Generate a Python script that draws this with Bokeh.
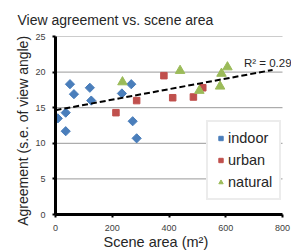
import math
from bokeh.plotting import figure
from bokeh.models import Range1d, Label, Legend, LegendItem, FixedTicker, Title
from bokeh.embed import file_html
from bokeh.resources import INLINE

# ---- data ----
indoor_x = [8, 36, 51, 65, 36, 121, 126, 234, 267, 272, 286]
indoor_y = [13.5, 14.3, 18.3, 16.9, 11.7, 17.8, 16.0, 17.0, 18.3, 13.1, 10.7]
urban_x = [213, 286, 382, 413, 486, 519]
urban_y = [14.3, 16.0, 19.5, 16.4, 16.5, 17.8]
natural_x = [236, 439, 606, 585, 580, 507]
natural_y = [18.6, 20.2, 20.7, 19.8, 18.0, 17.4]
trend_x = [0, 765]
trend_y = [14.65, 20.3]
x_ticks = [0, 200, 400, 600, 800]
y_ticks = [0, 5, 10, 15, 20, 25]
r2_text = "R\u00b2 = 0.29"
title_text = "View agreement vs. scene area"
xlabel_text = "Scene area (m\u00b2)"
ylabel_text = "Agreement (s.e. of view angle)"

FONT = "Liberation Sans"
BLUE = "#4a7ebb"
RED = "#c0504d"
GREEN = "#9bbb59"
TXT = "#262626"

# plot area spans 0..800 on 227 px; the frame is widened to the canvas edge
# so the R^2 text is not clipped
x_end = x_ticks[-1] * 236 / 227

p = figure(width=291, height=251, output_backend="svg", toolbar_location=None,
           x_range=Range1d(0, x_end), y_range=Range1d(y_ticks[0], y_ticks[-1]),
           min_border_left=55, min_border_right=0, min_border_top=33, min_border_bottom=35)
p.outline_line_color = None
p.background_fill_color = "white"
p.border_fill_color = "white"

# grid drawn from the tick arrays so it stops at x = 800
p.xgrid.grid_line_color = None
p.ygrid.grid_line_color = None
p.segment(x0=[x_ticks[0]] * len(y_ticks), x1=[x_ticks[-1]] * len(y_ticks),
          y0=y_ticks, y1=y_ticks, line_color="#999999", line_width=1)

# axes
for ax in (p.xaxis[0], p.yaxis[0]):
    ax.axis_line_color = "black"
    ax.axis_line_width = 3
    ax.major_tick_line_color = "black"
    ax.major_tick_line_width = 2
    ax.major_tick_out = 3
    ax.major_tick_in = 0
    ax.minor_tick_line_color = None
    ax.major_label_text_font = FONT
    ax.major_label_text_font_size = "9px"
    ax.major_label_text_color = "#404040"
p.xaxis.ticker = FixedTicker(ticks=x_ticks)
p.yaxis.ticker = FixedTicker(ticks=y_ticks)
p.xaxis.bounds = (x_ticks[0], x_ticks[-1])
p.xaxis.major_label_standoff = 7
p.yaxis.major_label_standoff = 7

# markers
r_in = p.scatter(indoor_x, indoor_y, marker="square", size=6.5, angle=math.pi / 4,
                 fill_color=BLUE, line_color=BLUE)
r_ur = p.scatter(urban_x, urban_y, marker="square", size=6.5,
                 fill_color=RED, line_color=RED)
r_na = p.scatter(natural_x, natural_y, marker="triangle", size=9.5,
                 fill_color=GREEN, line_color=GREEN)

# trend line
p.line(trend_x, trend_y, line_color="black", line_width=2, line_dash="6 3")

# R^2 label
p.add_layout(Label(x=664, y=21.3, text=r2_text, text_font=FONT, text_font_size="11.5px",
                   text_color=TXT, text_baseline="alphabetic"))

# legend
legend = Legend(items=[LegendItem(label="indoor", renderers=[r_in]),
                       LegendItem(label="urban", renderers=[r_ur]),
                       LegendItem(label="natural", renderers=[r_na])],
                location=(151, 14))
legend.label_text_font = FONT
legend.label_text_font_size = "14.5px"
legend.label_text_color = TXT
legend.border_line_color = "#d9d9d9"
legend.border_line_width = 2
legend.background_fill_color = "white"
legend.background_fill_alpha = 1
legend.glyph_width = 11
legend.glyph_height = 18
legend.label_height = 18
legend.spacing = 4
legend.padding = 7
legend.margin = 0
legend.label_standoff = 2
p.add_layout(legend, "center")

# title and axis titles as Title models in side panels
p.title = Title(text=title_text, align="left", offset=-38, standoff=18,
                text_font=FONT, text_font_size="14px", text_font_style="normal",
                text_color=TXT)
p.add_layout(Title(text=xlabel_text, align="left", offset=48, standoff=0,
                   vertical_align="top", text_font=FONT, text_font_size="14.5px",
                   text_font_style="normal", text_color=TXT), "below")
p.add_layout(Title(text=ylabel_text, align="left", offset=-11.3, standoff=4,
                   vertical_align="bottom", text_font=FONT, text_font_size="14px",
                   text_font_style="normal", text_color=TXT), "left")

open("out.html", "w").write(file_html(p, INLINE))
